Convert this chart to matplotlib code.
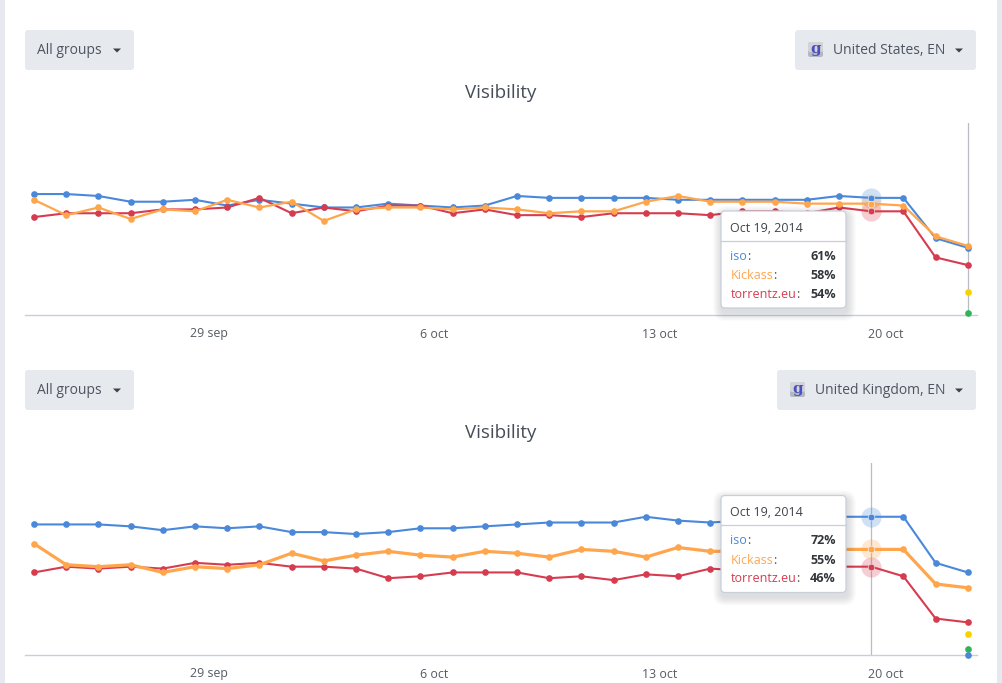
import matplotlib
matplotlib.use("Agg")
import matplotlib.pyplot as plt
import matplotlib.dates as mdates
from matplotlib.patches import FancyBboxPatch, Polygon
from matplotlib.transforms import ScaledTranslation
import datetime as dt

plt.rcParams['font.family'] = ['Open Sans', 'DejaVu Sans']

W, H = 1003, 683
start = dt.date(2014, 9, 23)
dates = [start + dt.timedelta(days=i) for i in range(30)]
tick_dates = [dt.date(2014, 9, 29), dt.date(2014, 10, 6), dt.date(2014, 10, 13), dt.date(2014, 10, 20)]
tick_labels = ["29 sep", "6 oct", "13 oct", "20 oct"]
hover_date = dt.date(2014, 10, 19)

us_iso = [63, 63, 62, 59, 59, 60, 57, 60, 58, 56, 56, 58, 57, 56, 57, 62, 61, 61, 61, 61, 60, 60, 60, 60, 60, 62, 61, 61, 40, 35]
us_kickass = [60, 52, 56, 50, 55, 54, 60, 56, 59, 49, 55, 56, 56, 55, 56, 55, 53, 54, 54, 59, 62, 59, 59, 59, 58, 58, 58, 57, 41, 36]
us_torrentz = [51, 53, 53, 53, 55, 55, 56, 61, 53, 56, 54, 57, 57, 53, 55, 52, 52, 51, 53, 53, 53, 52, 54, 54, 53, 56, 54, 54, 30, 26]
us_extra = [12, 1]

uk_iso = [68, 68, 68, 67, 65, 67, 66, 67, 64, 64, 63, 64, 66, 66, 67, 68, 69, 69, 69, 72, 70, 69, 70, 71, 72, 72, 72, 72, 48, 43]
uk_kickass = [58, 47, 46, 47, 43, 46, 45, 47, 53, 49, 52, 54, 52, 51, 54, 53, 51, 55, 54, 51, 56, 54, 54, 53, 54, 55, 55, 55, 37, 35]
uk_torrentz = [43, 46, 45, 46, 45, 48, 47, 48, 46, 46, 45, 40, 41, 43, 43, 43, 40, 41, 39, 42, 41, 45, 44, 44, 45, 46, 46, 41, 19, 17]
uk_extra = [11, 3, 0]

BLUE, ORANGE, RED = "#4a88da", "#ffa64d", "#d63c50"
YELLOW, GREEN = "#f7d100", "#2fb457"
TXT = "#4d5560"

fig = plt.figure(figsize=(W / 100, H / 100), dpi=100, facecolor="white")


def axes_px(x0, x1, ytop, ybot):
    return fig.add_axes([x0 / W, 1 - ybot / H, (x1 - x0) / W, (ybot - ytop) / H])


def draw_chart(ytop, ybot, iso, kick, tor, extra, extra_cols, vline_date, orange_lw):
    ax = axes_px(25, 977, ytop, ybot)
    ax.set_facecolor("none")
    d0 = mdates.date2num(start)
    ax.set_xlim(d0 - 9 / 32.2, d0 + (977 - 34) / 32.2)
    ax.set_ylim(0, 100)
    for s in ("top", "left", "right"):
        ax.spines[s].set_visible(False)
    ax.spines["bottom"].set_color("#c6cfdc")
    ax.spines["bottom"].set_linewidth(1.0)
    ax.set_yticks([])
    ax.set_xticks([mdates.date2num(d) for d in tick_dates])
    ax.set_xticklabels(tick_labels, fontsize=8.9, color="#555b63")
    ax.tick_params(axis="x", length=0, pad=9)
    off = ScaledTranslation(-18 / 100, 0, fig.dpi_scale_trans)
    for lab in ax.get_xticklabels():
        lab.set_transform(lab.get_transform() + off)

    ax.axvline(mdates.date2num(vline_date), color="#b9bcc0", lw=0.9, zorder=1)

    xs = mdates.date2num(dates)
    hi = dates.index(hover_date)
    for vals, col in ((iso, BLUE), (tor, RED), (kick, ORANGE)):
        ax.scatter([xs[hi]], [vals[hi]], s=210, color=col, alpha=0.25, lw=0, zorder=2, clip_on=False)
    for vals, col, lw in ((iso, BLUE, 1.5), (tor, RED, 1.5), (kick, ORANGE, orange_lw)):
        ax.plot(xs, vals, color=col, lw=lw, marker="o", ms=4.8, mew=0, zorder=3, clip_on=False,
                solid_joinstyle="round")
        ax.plot([xs[hi]], [vals[hi]], marker="o", ms=4.8, color=col, mec="white", mew=0.4, zorder=4, ls="none")
    for v, c in zip(extra, extra_cols):
        ax.plot([xs[-1]], [v], marker="o", ms=4.8, mew=0, color=c, zorder=3, ls="none", clip_on=False)
    return ax


draw_chart(123, 315, us_iso, us_kickass, us_torrentz, us_extra, [YELLOW, GREEN], dates[-1], 1.6)
draw_chart(463, 655, uk_iso, uk_kickass, uk_torrentz, uk_extra, [YELLOW, GREEN, BLUE], hover_date, 2.3)

ui = fig.add_axes([0, 0, 1, 1], zorder=10)
ui.set_xlim(0, W)
ui.set_ylim(H, 0)
ui.axis("off")
ui.patch.set_alpha(0)

ui.fill_between([0, 5], 0, H, color="#e6e9ef", lw=0)
ui.fill_between([997, W], 0, H, color="#e6e9ef", lw=0)


def rrect(x0, y0, x1, y1, fc, ec="none", lw=0, r=3, z=1, alpha=1):
    p = FancyBboxPatch((x0 + r, y0 + r), x1 - x0 - 2 * r, y1 - y0 - 2 * r,
                       boxstyle=f"round,pad={r},rounding_size={r}", fc=fc, ec=ec, lw=lw, zorder=z, alpha=alpha)
    ui.add_patch(p)


def caret(cx, cy):
    ui.add_patch(Polygon([(cx - 4, cy - 2), (cx + 4, cy - 2), (cx, cy + 2)], closed=True, fc="#3c4248", ec="none", zorder=3))


def button_left(y0):
    rrect(25, y0, 134, y0 + 40, "#e6e9ee")
    ui.text(37.5, y0 + 21, "All groups", fontsize=10, color=TXT, va="center", ha="left", zorder=3)
    caret(117, y0 + 20.5)


def button_right(x0, y0, label):
    rrect(x0, y0, 976, y0 + 40, "#e6e9ee")
    rrect(x0 + 13, y0 + 12, x0 + 28, y0 + 27, "#b5b8c0", r=2, z=2)
    rrect(x0 + 13, y0 + 12, x0 + 28, y0 + 22, "#d2d4da", r=2, z=2)
    ui.text(x0 + 20.5, y0 + 18.5, "g", fontsize=11, color="#4a50c0", family="DejaVu Serif", weight="bold",
            ha="center", va="center", zorder=3)
    ui.text(x0 + 38, y0 + 21, label, fontsize=10, color=TXT, va="center", ha="left", zorder=3)
    caret(959, y0 + 20.5)


button_left(30)
button_left(370)
button_right(795, 30, "United States, EN")
button_right(777, 370, "United Kingdom, EN")

ui.text(501, 93, "Visibility", fontsize=13.5, color="#454d58", ha="center", va="center", zorder=3)
ui.text(501, 433, "Visibility", fontsize=13.5, color="#454d58", ha="center", va="center", zorder=3)


def tooltip(y0, vals):
    x0, x1 = 721, 846
    y1 = y0 + 97
    for i in range(1, 10):
        rrect(x0 - i + 1, y0 - i + 4, x1 + i + 1, y1 + i + 4, "#202830", r=4 + i, z=5, alpha=0.017)
    rrect(x0, y0, x1, y1, "white", ec="#c9cedb", lw=0.9, r=4, z=6)
    ui.plot([x0, x1], [y0 + 29.5, y0 + 29.5], color="#c9cedb", lw=0.9, zorder=7)
    ui.text(730.5, y0 + 17, "Oct 19, 2014", fontsize=9, color="#3f444a", ha="left", va="center", zorder=8)
    names = [("iso", BLUE), ("Kickass", ORANGE), ("torrentz.eu", RED)]
    for k, ((nm, col), v) in enumerate(zip(names, vals)):
        y = y0 + 45.5 + 19 * k
        t = ui.text(730.5, y, nm, fontsize=9, color=col, ha="left", va="center", zorder=8)
        ext = t.get_window_extent(fig.canvas.get_renderer())
        ui.text(ext.x1 * W / fig.bbox.width, y, ":", fontsize=9, color="#555", ha="left", va="center", zorder=8)
        ui.text(836, y, f"{v}%", fontsize=9, color="#33373c", weight="bold", ha="right", va="center", zorder=8)


tooltip(211, [us_iso[26], us_kickass[26], us_torrentz[26]])
tooltip(495.5, [uk_iso[26], uk_kickass[26], uk_torrentz[26]])

fig.savefig("out.png", dpi=100, facecolor="white")
